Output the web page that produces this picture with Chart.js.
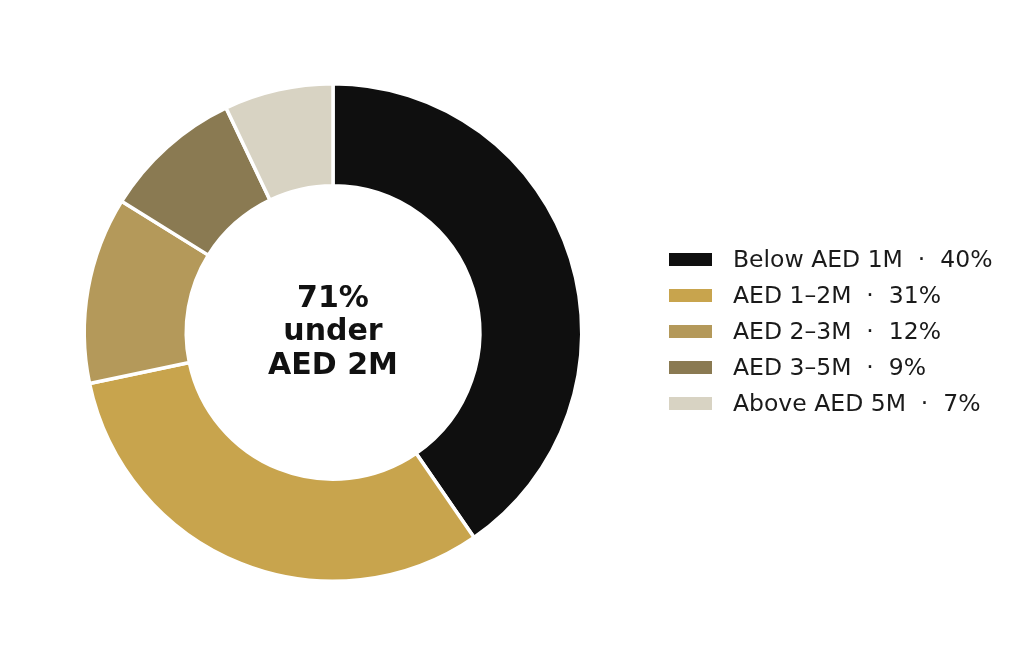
<!DOCTYPE html>
<html>
<head>
<meta charset="utf-8">
<script src="https://cdn.jsdelivr.net/npm/chart.js@4/dist/chart.umd.min.js"></script>
<style>
  html, body { margin: 0; padding: 0; background: #fff; }
  #wrap { position: relative; width: 1022px; height: 665px; }
  #legend { position: absolute; left: 669px; top: 241px; font-family: "DejaVu Sans", sans-serif; font-size: 23.5px; color: #1a1a1a; }
  .item { height: 36px; display: flex; align-items: center; white-space: pre; }
  .box { width: 43px; height: 13px; margin-right: 21px; }
</style>
</head>
<body>
<div id="wrap">
  <canvas id="canvas" width="1022" height="665"></canvas>
  <div id="legend"></div>
</div>
<script>
var labels = ["Below AED 1M", "AED 1\u20132M", "AED 2\u20133M", "AED 3\u20135M", "Above AED 5M"]
var shares = [40, 31, 12, 9, 7]
var colors = ["#0f0f0f", "#c8a44d", "#b4995a", "#8a7a52", "#d8d3c3"]
var centerLines = ["71%", "under", "AED 2M"]

// legend built from the same arrays
var legend = document.getElementById("legend")
labels.forEach(function(lab, i) {
    var row = document.createElement("div")
    row.className = "item"
    var box = document.createElement("span")
    box.className = "box"
    box.style.background = colors[i]
    var txt = document.createElement("span")
    txt.textContent = lab + "  \u00b7  " + shares[i] + "%"
    row.appendChild(box)
    row.appendChild(txt)
    legend.appendChild(row)
})

var centerText = {
    id: "centerText",
    afterDraw: function(chart) {
        var arc = chart.getDatasetMeta(0).data[0]
        var ctx = chart.ctx
        ctx.save()
        ctx.font = "bold 30px 'DejaVu Sans', sans-serif"
        ctx.fillStyle = "#111"
        ctx.textAlign = "center"
        ctx.textBaseline = "middle"
        centerLines.forEach(function(line, i) {
            ctx.fillText(line, arc.x, arc.y + (i - 1) * 33.5)
        })
        ctx.restore()
    }
}

new Chart(document.getElementById("canvas").getContext("2d"), {
    type: "doughnut",
    data: {
        labels: labels,
        datasets: [{
            data: shares,
            backgroundColor: colors,
            borderColor: "#ffffff",
            borderWidth: 3.5,
            hoverOffset: 0
        }]
    },
    options: {
        responsive: false,
        animation: false,
        cutout: "59%",
        layout: { padding: { left: 0, right: 356, top: 82, bottom: 82 } },
        plugins: {
            legend: { display: false },
            tooltip: { enabled: false }
        }
    },
    plugins: [centerText]
})
</script>
</body>
</html>
